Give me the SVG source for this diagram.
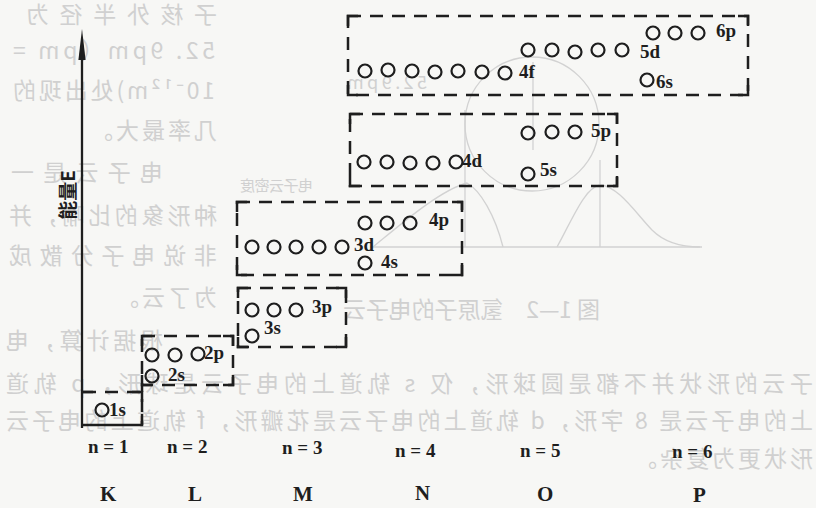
<svg xmlns="http://www.w3.org/2000/svg" width="816" height="508" viewBox="0 0 816 508">
<defs>
<style>
.bg{fill:#f7f7f5}
.ghost{fill:#d0d0d0;font-family:"Noto Sans CJK SC","Liberation Serif",sans-serif;font-size:23px;letter-spacing:3px}
.gline{fill:none;stroke:#d2d2d2;stroke-width:1.3}
.box{fill:none;stroke:#1e1e1e;stroke-width:2.5;stroke-dasharray:13 9}
.corner{fill:none;stroke:#1e1e1e;stroke-width:2.5}
.orb{fill:none;stroke:#1e1e1e;stroke-width:2.2}
.lbl{fill:#1e1e1e;font-family:"Liberation Serif",serif;font-size:19px;font-weight:bold}
.nl{fill:#1e1e1e;font-family:"Liberation Serif",serif;font-size:19px;font-weight:bold}
.sh{fill:#1e1e1e;font-family:"Liberation Serif",serif;font-size:21px;font-weight:bold}
.axis{stroke:#1e1e1e;stroke-width:2.3;fill:none}
</style>
</defs>
<rect class="bg" x="0" y="0" width="816" height="508"/>

<!-- faint show-through from the reverse page (mirrored) -->
<g id="showthrough">
<g>
<circle class="gline" cx="532" cy="124" r="67"/>
<path class="gline" d="M370,247 H702"/>
<path class="gline" d="M465,110 V247"/>
<path class="gline" d="M600,160 V247"/>
<path class="gline" d="M533,62 V150"/>
<path class="gline" d="M373,247 C400,225 440,190 467,183 C480,190 495,215 503,247"/>
<path class="gline" d="M557,247 C572,220 585,187 600,185 C618,186 635,212 652,230 C664,242 680,247 700,247"/>
</g>
<g transform="matrix(-1 0 0 1 816 0)">
<text class="ghost" x="599" y="23" textLength="194" lengthAdjust="spacing">子核外半径为</text>
<text class="ghost" x="601" y="59" textLength="205" lengthAdjust="spacing">52. 9pm（pm =</text>
<text class="ghost" x="601" y="99" textLength="205" lengthAdjust="spacing">10⁻¹²m)处出现的</text>
<text class="ghost" x="599" y="139">几率最大。</text>
<text class="ghost" x="653" y="181" textLength="155" lengthAdjust="spacing">电子云是一</text>
<text class="ghost" x="599" y="224" textLength="211" lengthAdjust="spacing">种形象的比喻，并</text>
<text class="ghost" x="599" y="264" textLength="211" lengthAdjust="spacing">非说电子分散成</text>
<text class="ghost" x="599" y="306">为了云。</text>
<text class="ghost" x="653" y="349" textLength="160" lengthAdjust="spacing">根据计算，电</text>
<text class="ghost" x="3" y="392" textLength="810" lengthAdjust="spacing">子云的形状并不都是圆球形，仅 s 轨道上的电子云是球形，p 轨道</text>
<text class="ghost" x="3" y="429" textLength="810" lengthAdjust="spacing">上的电子云是 8 字形，d 轨道上的电子云是花瓣形，f 轨道上的电子云</text>
<text class="ghost" x="3" y="467">形状更为复杂。</text>
<text class="ghost" x="216" y="318" textLength="260" lengthAdjust="spacing">图 1—2　氢原子的电子云</text>
<text class="ghost" x="503" y="191" style="font-size:15px;letter-spacing:0" textLength="73" lengthAdjust="spacing">电子云密度</text>
<text class="ghost" x="389" y="89" style="font-size:18px;letter-spacing:0" textLength="80" lengthAdjust="spacing">52.9pm</text>
</g>
</g>

<!-- energy axis -->
<g id="axis">
<path class="axis" d="M82,56 V428"/>
<polygon points="82,29 85.6,60 78.4,60" fill="#1e1e1e"/>
<text x="66" y="195" transform="rotate(-90 66 195)" text-anchor="middle" dominant-baseline="central" style="fill:#1e1e1e;font-family:'Noto Sans CJK SC',sans-serif;font-size:19px;font-weight:bold">能量E</text>
</g>

<!-- level K (n=1) -->
<g id="levelK">
<path class="box" d="M83,392 H142 V425"/>
<path class="corner" d="M83,425 H142 V414 M83,392 H93 M132,392 H142 V402"/>
<circle class="orb" cx="102" cy="410" r="6.5"/>
<text class="lbl" x="109" y="416">1s</text>
</g>

<!-- level L (n=2) -->
<g id="levelL">
<path class="box" d="M142,336 H233 V385 H142 V336 M142,385 V392"/>
<path class="corner" d="M142,346 V336 H152 M223,336 H233 V346 M233,375 V385 H223 M152,385 H142 V375"/>
<circle class="orb" cx="152" cy="355" r="6.5"/>
<circle class="orb" cx="175" cy="355" r="6.5"/>
<circle class="orb" cx="198" cy="354" r="6.5"/>
<text class="lbl" x="204" y="359">2p</text>
<circle class="orb" cx="152" cy="376" r="6.5"/>
<text class="lbl" x="168" y="381">2s</text>
</g>

<!-- level M (n=3) -->
<g id="levelM">
<path class="box" d="M238,288 H346 V347 H238 Z"/>
<path class="corner" d="M238,298 V288 H248 M336,288 H346 V298 M346,337 V347 H336 M248,347 H238 V337"/>
<circle class="orb" cx="252" cy="310" r="6.5"/>
<circle class="orb" cx="274" cy="310" r="6.5"/>
<circle class="orb" cx="296" cy="310" r="6.5"/>
<text class="lbl" x="312" y="313">3p</text>
<circle class="orb" cx="252" cy="336" r="6.5"/>
<text class="lbl" x="264" y="334">3s</text>
</g>

<!-- level N (n=4) -->
<g id="levelN">
<path class="box" d="M237,202 H462 V275 H237 Z"/>
<path class="corner" d="M237,212 V202 H247 M452,202 H462 V212 M462,265 V275 H452 M247,275 H237 V265"/>
<circle class="orb" cx="252" cy="247" r="6.5"/>
<circle class="orb" cx="274" cy="247" r="6.5"/>
<circle class="orb" cx="296" cy="247" r="6.5"/>
<circle class="orb" cx="319" cy="247" r="6.5"/>
<circle class="orb" cx="342" cy="247" r="6.5"/>
<text class="lbl" x="354" y="251">3d</text>
<circle class="orb" cx="365" cy="263" r="6.5"/>
<text class="lbl" x="381" y="268">4s</text>
<circle class="orb" cx="365" cy="223" r="6.5"/>
<circle class="orb" cx="387" cy="223" r="6.5"/>
<circle class="orb" cx="410" cy="223" r="6.5"/>
<text class="lbl" x="429" y="226">4p</text>
</g>

<!-- level O (n=5) -->
<g id="levelO">
<path class="box" d="M350,114 H617 V186 H350 Z"/>
<path class="corner" d="M350,124 V114 H360 M607,114 H617 V124 M617,176 V186 H607 M360,186 H350 V176"/>
<circle class="orb" cx="364" cy="162" r="6.5"/>
<circle class="orb" cx="387" cy="162" r="6.5"/>
<circle class="orb" cx="410" cy="163" r="6.5"/>
<circle class="orb" cx="433" cy="163" r="6.5"/>
<circle class="orb" cx="456" cy="162" r="6.5"/>
<text class="lbl" x="462" y="167">4d</text>
<circle class="orb" cx="528" cy="174" r="6.5"/>
<text class="lbl" x="540" y="176">5s</text>
<circle class="orb" cx="528" cy="133" r="6.5"/>
<circle class="orb" cx="552" cy="132" r="6.5"/>
<circle class="orb" cx="575" cy="132" r="6.5"/>
<text class="lbl" x="591" y="137">5p</text>
</g>

<!-- level P (n=6) -->
<g id="levelP">
<path class="box" d="M348,16 H748 V95 H348 Z"/>
<path class="corner" d="M348,26 V16 H358 M738,16 H748 V26 M748,85 V95 H738 M358,95 H348 V85"/>
<circle class="orb" cx="365" cy="71" r="6.5"/>
<circle class="orb" cx="388" cy="70" r="6.5"/>
<circle class="orb" cx="412" cy="71" r="6.5"/>
<circle class="orb" cx="435" cy="72" r="6.5"/>
<circle class="orb" cx="458" cy="71" r="6.5"/>
<circle class="orb" cx="482" cy="72" r="6.5"/>
<circle class="orb" cx="505" cy="73" r="6.5"/>
<text class="lbl" x="519" y="78">4f</text>
<circle class="orb" cx="528" cy="50" r="6.5"/>
<circle class="orb" cx="552" cy="50" r="6.5"/>
<circle class="orb" cx="575" cy="52" r="6.5"/>
<circle class="orb" cx="598" cy="50" r="6.5"/>
<circle class="orb" cx="622" cy="50" r="6.5"/>
<text class="lbl" x="640" y="58">5d</text>
<circle class="orb" cx="647" cy="80" r="6.5"/>
<text class="lbl" x="656" y="88">6s</text>
<circle class="orb" cx="653" cy="33" r="6.5"/>
<circle class="orb" cx="675" cy="33" r="6.5"/>
<circle class="orb" cx="698" cy="33" r="6.5"/>
<text class="lbl" x="716" y="37">6p</text>
</g>

<!-- principal quantum numbers and shell letters -->
<g id="quantum-numbers">
<text class="nl" x="88" y="453">n = 1</text>
<text class="nl" x="167" y="453">n = 2</text>
<text class="nl" x="282" y="454">n = 3</text>
<text class="nl" x="395" y="457">n = 4</text>
<text class="nl" x="520" y="457">n = 5</text>
<text class="nl" x="672" y="458">n = 6</text>
</g>
<g id="shells">
<text class="sh" x="100" y="501">K</text>
<text class="sh" x="188" y="501">L</text>
<text class="sh" x="293" y="501">M</text>
<text class="sh" x="415" y="500">N</text>
<text class="sh" x="537" y="501">O</text>
<text class="sh" x="693" y="502">P</text>
</g>
</svg>
